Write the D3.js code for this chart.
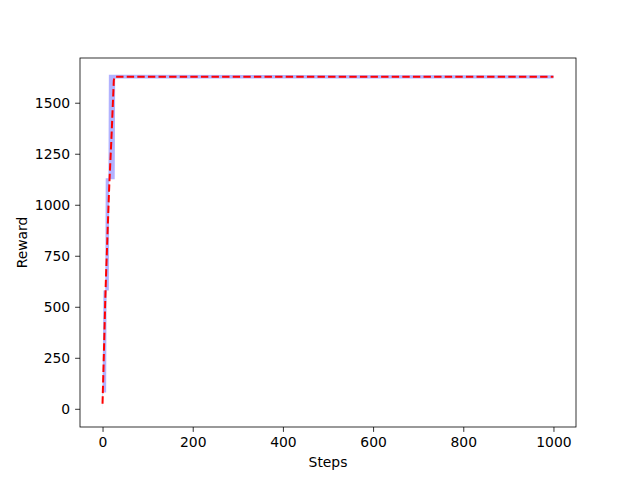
<!DOCTYPE html>
<html><head><meta charset="utf-8">
<script src="https://cdn.jsdelivr.net/npm/d3@7"></script>
<style>body{margin:0;background:#fff}svg{display:block}text{font-family:"DejaVu Sans",sans-serif}</style>
</head><body>
<script>
const steps =      [0,   1,   2,   6,   7,    8,    9,    13,   14,   15,   20,   25,   27,   28,   1000];
const meanReward = [25,  110, 190, 530, 600,  670,  730,  980,  1040, 1100, 1340, 1610, 1627, 1627, 1627];
const upperBand =  [100, 340, 580, 580, 1130, 1130, 1130, 1130, 1637, 1637, 1637, 1637, 1637, 1637, 1635];
const lowerBand =  [-7,  80,  80,  80,  80,   80,   580,  580,  580,  1125, 1125, 1125, 1125, 1619, 1619];
const xTicks = [0, 200, 400, 600, 800, 1000];
const yTicks = [0, 250, 500, 750, 1000, 1250, 1500];

const W = 640, H = 480;
const m = {left: 80, right: 576, top: 58, bottom: 427};
const svg = d3.select("body").append("svg").attr("width", W).attr("height", H);

const xMin = d3.min(steps), xMax = d3.max(steps);
const yMin = d3.min(lowerBand), yMax = d3.max(upperBand);
const xPad = (xMax - xMin) * 0.05, yPad = (yMax - yMin) * 0.05;
const x = d3.scaleLinear().domain([xMin - xPad, xMax + xPad]).range([m.left, m.right]);
const y = d3.scaleLinear().domain([yMin - yPad, yMax + yPad]).range([m.bottom, m.top]);

const data = steps.map((s, i) => ({s, mean: meanReward[i], lo: lowerBand[i], hi: upperBand[i]}));

svg.append("path").datum(data)
  .attr("d", d3.area().x(d => x(d.s)).y0(d => y(d.lo)).y1(d => y(d.hi)))
  .attr("fill", "blue").attr("fill-opacity", 0.3);

svg.append("path").datum(data)
  .attr("d", d3.line().x(d => x(d.s)).y(d => y(d.mean)))
  .attr("fill", "none").attr("stroke", "red").attr("stroke-width", 2)
  .attr("stroke-dasharray", "7.4,3.2");

const xAxis = svg.append("g").attr("transform", `translate(0,${m.bottom})`)
  .call(d3.axisBottom(x).tickValues(xTicks).tickSize(4.9).tickPadding(4.9).tickFormat(d3.format("d")));
const yAxis = svg.append("g").attr("transform", `translate(${m.left},0)`)
  .call(d3.axisLeft(y).tickValues(yTicks).tickSize(4.9).tickPadding(4.9).tickFormat(d3.format("d")));
[xAxis, yAxis].forEach(g => {
  g.select(".domain").remove();
  g.selectAll("line").attr("stroke", "#000").attr("stroke-width", 0.8);
  g.selectAll("text").attr("font-size", 13.9).attr("fill", "#000").attr("font-family", "DejaVu Sans");
});

svg.append("rect").attr("x", m.left).attr("y", m.top)
  .attr("width", m.right - m.left).attr("height", m.bottom - m.top)
  .attr("fill", "none").attr("stroke", "#000").attr("stroke-width", 0.8);

svg.append("text").attr("x", (m.left + m.right) / 2).attr("y", 467)
  .attr("text-anchor", "middle").attr("font-size", 13.9).text("Steps");
svg.append("text").attr("transform", `translate(27,${(m.top + m.bottom) / 2}) rotate(-90)`)
  .attr("text-anchor", "middle").attr("font-size", 13.9).text("Reward");
</script>
</body></html>
